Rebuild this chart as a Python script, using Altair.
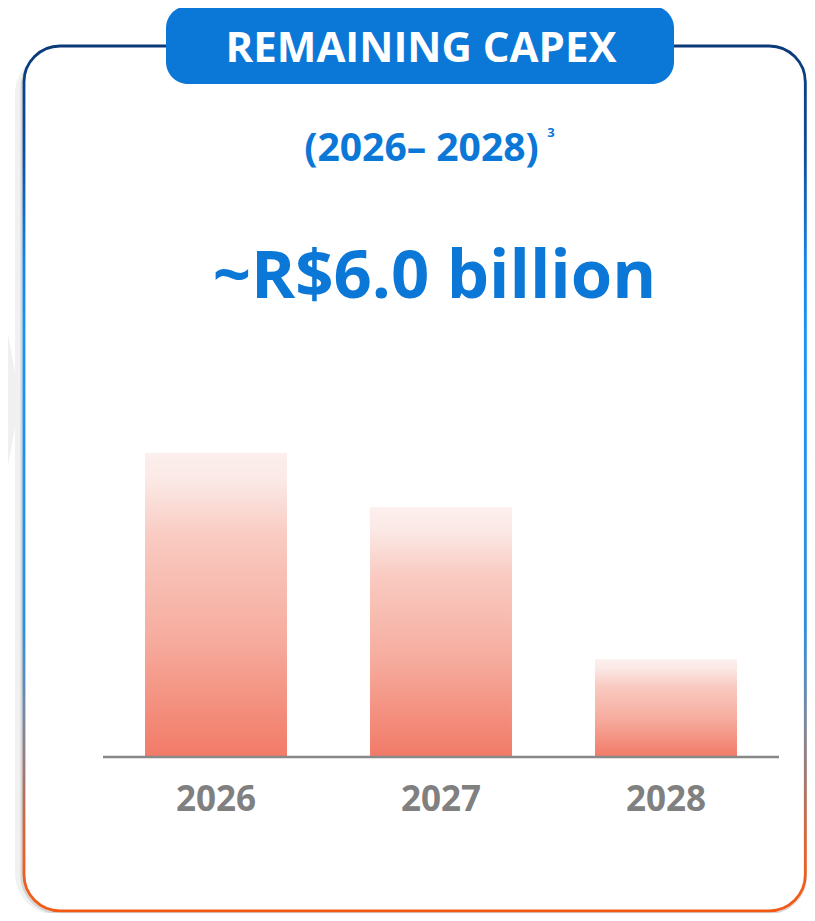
import altair as alt
import pandas as pd

# ---- data ----
years = ["2026", "2027", "2028"]
capex = [2.8, 2.3, 0.9]          # R$ billion (sum ~6.0)
header_text = "REMAINING CAPEX"
subtitle_text = "(2026\u2013 2028)"
footnote_text = "3"
total_text = "~R$6.0 billion"

# ---- layout helpers (page coords -> chart coords) ----
W, H = 799, 905
OX, OY = 8, 8


def px(x):
    return x - OX


def py(y):
    return y - OY


BLUE = "#0b77d7"
GRAY_TXT = "#808080"
FONT = "Open Sans"

bars_df = pd.DataFrame({"year": years, "capex": capex})
one = pd.DataFrame({"k": [0]})

bar_grad = alt.LinearGradient(
    gradient="linear",
    stops=[
        alt.GradientStop(color="#fcefed", offset=0.0),
        alt.GradientStop(color="#fbe9e6", offset=0.09),
        alt.GradientStop(color="#f9cbc2", offset=0.27),
        alt.GradientStop(color="#f6ad9f", offset=0.6),
        alt.GradientStop(color="#f27a67", offset=1.0),
    ],
    x1=0, x2=0, y1=0, y2=1,
)

border_grad = alt.LinearGradient(
    gradient="linear",
    stops=[
        alt.GradientStop(color="#0b3a78", offset=0.0),
        alt.GradientStop(color="#0d4c9c", offset=0.12),
        alt.GradientStop(color="#1286ee", offset=0.25),
        alt.GradientStop(color="#1593ff", offset=0.33),
        alt.GradientStop(color="#2a90e2", offset=0.67),
        alt.GradientStop(color="#7a88a2", offset=0.78),
        alt.GradientStop(color="#b5705a", offset=0.87),
        alt.GradientStop(color="#ee5f25", offset=0.94),
        alt.GradientStop(color="#f25a14", offset=1.0),
    ],
    x1=0, x2=0, y1=0, y2=1,
)

base = alt.Chart(one)

chevron = base.mark_point(
    shape="M-1,-1L-0.818,0L-1,1Z", size=48400, filled=True,
    fill="#f0f0f0", opacity=1, strokeWidth=0,
).encode(x=alt.value(102), y=alt.value(py(400)))

shadow_outer = base.mark_rect(fill="#f1f1f1", cornerRadius=42).encode(
    x=alt.value(px(15)), x2=alt.value(px(807)),
    y=alt.value(py(52)), y2=alt.value(py(915)),
)
shadow_inner = base.mark_rect(fill="#d6d6d6", cornerRadius=38).encode(
    x=alt.value(px(20.5)), x2=alt.value(px(807)),
    y=alt.value(py(49)), y2=alt.value(py(914)),
)
card = base.mark_rect(
    fill="white", stroke=border_grad, strokeWidth=2.8, cornerRadius=36
).encode(
    x=alt.value(px(24)), x2=alt.value(px(805.3)),
    y=alt.value(py(46)), y2=alt.value(py(910.8)),
)

pill = base.mark_rect(fill=BLUE, cornerRadius=22).encode(
    x=alt.value(px(166)), x2=alt.value(px(674)),
    y=alt.value(py(6)), y2=alt.value(py(84)),
)

header = base.mark_text(
    font=FONT, fontWeight="bold", fontSize=42, color="white",
    align="center", baseline="alphabetic",
).encode(x=alt.value(px(421)), y=alt.value(py(62)), text=alt.value(header_text))

subtitle = base.mark_text(
    font=FONT, fontWeight="bold", fontSize=39, color=BLUE,
    align="center", baseline="alphabetic",
).encode(x=alt.value(px(421.5)), y=alt.value(py(161)), text=alt.value(subtitle_text))

footnote = base.mark_text(
    font=FONT, fontWeight="bold", fontSize=13, color=BLUE,
    align="center", baseline="alphabetic",
).encode(x=alt.value(px(551)), y=alt.value(py(137)), text=alt.value(footnote_text))

total = base.mark_text(
    font=FONT, fontWeight="bold", fontSize=67, color=BLUE,
    align="center", baseline="alphabetic",
).encode(x=alt.value(px(434.5)), y=alt.value(py(298)), text=alt.value(total_text))

x_scale = alt.Scale(
    domain=years, range=[px(103.5), px(778.5)],
    paddingInner=0.369, paddingOuter=0.1845,
)
y_scale = alt.Scale(domain=[0, 3], range=[py(757), py(757) - 3 * 108.6], nice=False, zero=True)

bars = alt.Chart(bars_df).mark_bar(fill=bar_grad).encode(
    x=alt.X("year:N", scale=x_scale, axis=None),
    y=alt.Y("capex:Q", scale=y_scale, axis=None),
)

baseline = base.mark_rule(color="#888888", strokeWidth=2.5).encode(
    x=alt.value(px(103)), x2=alt.value(px(779)), y=alt.value(py(757)),
)

labels = alt.Chart(bars_df).mark_text(
    font=FONT, fontWeight="bold", fontSize=35, color=GRAY_TXT,
    align="center", baseline="alphabetic",
).encode(
    x=alt.X("year:N", scale=x_scale, axis=None),
    y=alt.value(py(811)),
    text="year:N",
)

chart = alt.layer(
    chevron, shadow_outer, shadow_inner, card, pill, header, subtitle,
    footnote, total, bars, baseline, labels,
).properties(
    width=W, height=H,
    autosize=alt.AutoSizeParams(type="none"),
    padding=0,
).configure_view(stroke=None)

chart.save("out.html", embed_options={"renderer": "svg", "actions": False})
